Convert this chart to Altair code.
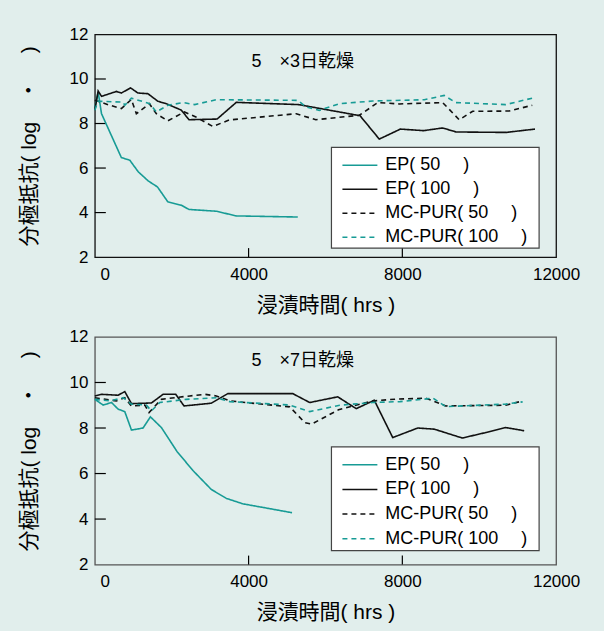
import altair as alt
import pandas as pd

FONT = "Liberation Sans, Noto Sans CJK JP"
BG = "#e1eeec"
TEAL = "#179b95"

SERIES = ["EP( 50\u3000 )", "EP( 100\u3000 )", "MC-PUR( 50\u3000 )", "MC-PUR( 100\u3000 )"]
COLORS = [TEAL, "#111111", "#111111", TEAL]
DASHES = [[1, 0], [1, 0], [5, 4], [5, 4]]

X_TICKS = [0, 4000, 8000, 12000]
Y_TICKS = [2, 4, 6, 8, 10, 12]
X_INNER = [4000, 8000]
Y_INNER = [4, 6, 8, 10]

TITLE_TOP = "5\u3000×3日乾燥"
TITLE_BOT = "5\u3000×7日乾燥"
X_TITLE = "浸漬時間( hrs )"
Y_TITLE = "分極抵抗( log\u3000・\u3000 )"

# ---- panel 1 : 5 x 3 days drying ----
p1_ep50_t = [0, 86, 174, 690, 910, 1130, 1390, 1630, 1900, 2250, 2450, 3160, 3680, 5280]
p1_ep50_v = [8.74, 9.41, 8.44, 6.47, 6.35, 5.83, 5.42, 5.15, 4.48, 4.33, 4.14, 4.06, 3.85, 3.8]

p1_ep100_t = [0, 86, 174, 560, 690, 930, 1120, 1380, 1640, 1860, 2250, 2450, 3180, 3680,
              5300, 6900, 7400, 7950, 8550, 9050, 9400, 10700, 11450]
p1_ep100_v = [8.6, 9.46, 9.22, 9.44, 9.37, 9.6, 9.37, 9.34, 9.0, 8.89, 8.6, 8.17, 8.2, 8.95,
              8.85, 8.35, 7.3, 7.75, 7.68, 7.8, 7.62, 7.6, 7.75]

p1_mc50_t = [0, 390, 690, 950, 1080, 1420, 1600, 1900, 2330, 2630, 3070, 3500, 5240, 5750,
             6880, 7360, 7930, 9050, 9480, 9830, 10780, 11380]
p1_mc50_v = [9.05, 8.82, 8.67, 9.08, 8.44, 8.89, 8.44, 8.12, 8.52, 8.29, 7.87, 8.16, 8.44, 8.17,
             8.37, 8.94, 8.88, 8.94, 8.17, 8.55, 8.56, 8.82]

p1_mc100_t = [0, 80, 730, 780, 950, 1430, 1600, 1900, 2300, 2600, 3160, 5280, 5500, 5840,
              6360, 7230, 8570, 9090, 9390, 10690, 11380]
p1_mc100_v = [8.6, 9.0, 8.96, 8.82, 9.14, 8.89, 8.52, 8.82, 8.94, 8.85, 9.07, 9.04, 8.74, 8.59,
              8.89, 9.01, 9.07, 9.26, 8.94, 8.85, 9.14]

# ---- panel 2 : 5 x 7 days drying ----
p2_ep50_t = [0, 216, 434, 605, 779, 953, 1254, 1446, 1732, 2137, 2553, 3030, 3420, 3850, 5130]
p2_ep50_v = [9.26, 9.01, 9.12, 8.83, 8.72, 7.91, 8.0, 8.49, 8.02, 6.97, 6.13, 5.3, 4.91, 4.67, 4.28]

p2_ep100_t = [0, 174, 605, 779, 953, 1472, 1775, 2104, 2320, 3030, 3460, 5150, 5590, 6320,
              6800, 7270, 7750, 8400, 8830, 9560, 10170, 10690, 11170]
p2_ep100_v = [9.41, 9.48, 9.44, 9.6, 9.07, 9.1, 9.48, 9.48, 8.97, 9.09, 9.51, 9.51, 9.12, 9.37,
              8.85, 9.22, 7.58, 8.0, 7.95, 7.56, 7.8, 8.02, 7.88]

p2_mc50_t = [0, 560, 780, 950, 1300, 1410, 1730, 2470, 2860, 3160, 3510, 5070, 5460, 5640,
             6340, 7230, 7840, 8610, 9130, 10690, 11130]
p2_mc50_v = [9.33, 9.19, 9.33, 8.97, 9.01, 8.68, 9.26, 9.41, 9.48, 9.41, 9.19, 8.93, 8.24, 8.17,
             8.8, 9.19, 9.27, 9.31, 8.97, 9.0, 9.19]

p2_mc100_t = [0, 390, 740, 950, 1340, 1470, 1690, 2380, 3160, 3510, 5070, 5590, 6370, 7230,
              7940, 8800, 9130, 10690, 11130]
p2_mc100_v = [9.26, 9.19, 9.33, 9.05, 9.01, 8.75, 9.12, 9.26, 9.33, 9.16, 9.01, 8.72, 9.0, 9.12,
              9.16, 9.31, 8.94, 9.05, 9.15]


def make_df(pairs):
    frames = []
    for name, (ts, vs) in zip(SERIES, pairs):
        frames.append(pd.DataFrame({"t": ts, "v": vs, "s": name}))
    return pd.concat(frames, ignore_index=True)


def panel(pairs, title_text, height, frame_color, box, row0, rowstep, title_y):
    df = make_df(pairs)
    cscale = alt.Scale(domain=SERIES, range=COLORS)
    dscale = alt.Scale(domain=SERIES, range=DASHES)
    xscale = alt.Scale(domain=[0, 12000], nice=False, zero=False)
    yscale = alt.Scale(domain=[2, 12], nice=False, zero=False)
    xaxis = alt.Axis(
        values=X_TICKS, format="d", ticks=False, domain=False, grid=False,
        labelFontSize=17, labelColor="black", labelFlush=False, labelPadding=9,
        labelOffset=alt.condition("datum.value == 0", alt.value(10), alt.value(0)),
        title=X_TITLE, titleFontSize=21, titleFontWeight="normal", titleColor="black",
        titlePadding=12,
    )
    yaxis = alt.Axis(
        values=Y_TICKS, format="d", ticks=False, domain=False, grid=False,
        labelFontSize=17, labelColor="black", labelFlush=False, labelPadding=7,
        title=Y_TITLE, titleFontSize=21, titleFontWeight="normal", titleColor="black",
        titlePadding=30,
    )
    lines = alt.Chart(df).mark_line(strokeWidth=1.6).encode(
        x=alt.X("t:Q", scale=xscale, axis=xaxis),
        y=alt.Y("v:Q", scale=yscale, axis=yaxis),
        color=alt.Color("s:N", scale=cscale, legend=None),
        strokeDash=alt.StrokeDash("s:N", scale=dscale, legend=None),
    )
    yt = alt.Chart(pd.DataFrame({"v": Y_INNER})).mark_rule(color="black", strokeWidth=1.2).encode(
        y="v:Q", x=alt.value(0), x2=alt.value(11)
    )
    xt = alt.Chart(pd.DataFrame({"t": X_INNER})).mark_rule(color="black", strokeWidth=1.2).encode(
        x="t:Q", y=alt.value(height), y2=alt.value(height - 9)
    )
    bx0, by0, bx1, by1 = box
    frame = alt.Chart(pd.DataFrame({"k": [0]})).mark_rect(
        fill="white", stroke="#444444", strokeWidth=1.2
    ).encode(x=alt.value(bx0), x2=alt.value(bx1), y=alt.value(by0), y2=alt.value(by1))

    # legend built from the series list
    leg_df = pd.DataFrame({"s": SERIES, "i": list(range(len(SERIES)))})
    leg_base = alt.Chart(leg_df).transform_calculate(
        py=f"{row0} + datum.i * {rowstep}"
    )
    leg_sym = leg_base.mark_rule(strokeWidth=1.5).encode(
        x=alt.value(248), x2=alt.value(283),
        y=alt.Y("py:Q", scale=None),
        color=alt.Color("s:N", scale=cscale, legend=None),
        strokeDash=alt.StrokeDash("s:N", scale=dscale, legend=None),
    )
    leg_txt = leg_base.mark_text(
        align="left", baseline="middle", fontSize=18, color="black"
    ).encode(x=alt.value(291), y=alt.Y("py:Q", scale=None), text="s:N")

    txt = alt.Chart(pd.DataFrame({"label": [title_text]})).mark_text(
        align="left", baseline="middle", fontSize=18, color="black"
    ).encode(x=alt.value(157), y=alt.value(title_y), text="label:N")
    return alt.layer(yt, xt, lines, frame, leg_sym, leg_txt, txt).properties(
        width=462, height=height,
        view=alt.ViewBackground(stroke=frame_color, strokeWidth=1.3, fill=BG),
    )


top = panel([(p1_ep50_t, p1_ep50_v), (p1_ep100_t, p1_ep100_v),
             (p1_mc50_t, p1_mc50_v), (p1_mc100_t, p1_mc100_v)],
            TITLE_TOP, 223, "#111111", (237, 113, 445, 214), 131, 24, 28)
bot = panel([(p2_ep50_t, p2_ep50_v), (p2_ep100_t, p2_ep100_v),
             (p2_mc50_t, p2_mc50_v), (p2_mc100_t, p2_mc100_v)],
            TITLE_BOT, 228, "#555555", (237, 110, 445, 214), 128, 24.7, 24)

chart = alt.vconcat(top, bot, spacing=80, bounds="flush").configure(
    background=BG, font=FONT,
    padding={"left": 17, "top": 24, "right": 23, "bottom": 7},
)

chart.save("out.html", embed_options={"renderer": "svg", "actions": False})
